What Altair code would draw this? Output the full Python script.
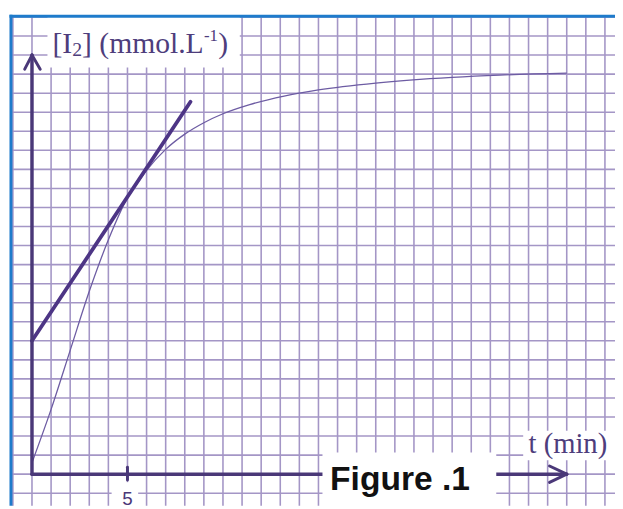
import altair as alt
import pandas as pd

# ---- data ----
time_min = [0, 1, 2, 3, 4, 5, 5.5, 6, 7, 8, 9, 10, 11.4, 13.2, 15, 18, 22, 24.5, 28]
iodine = [0.6, 3.4, 6.5, 9.6, 12.3, 14.5, 15.25, 15.95, 17.05, 17.85, 18.45, 18.92,
          19.4, 19.85, 20.17, 20.53, 20.83, 20.95, 21.05]
tangent_t = [0, 8.3]
tangent_c = [7.0, 19.55]
grid_t = list(range(-1, 31))
grid_c = list(range(-1, 25))
tick_label = "5"

W, H = 612, 496
xs = alt.Scale(domain=[-1.1008, 30.527], nice=False, zero=False)
ys = alt.Scale(domain=[-1.658, 24.041], nice=False, zero=False)

axis_color = "#4A3878"
tangent_color = "#4D3585"
curve_color = "#6D5CA3"
grid_color = "#A496C6"
text_color = "#4E3D7C"
border_color = "#1E7BCB"

one = pd.DataFrame({"k": [0]})


def XD(v):
    return alt.XDatum(v, scale=xs, axis=None)


def YD(v):
    return alt.YDatum(v, scale=ys, axis=None)


curve_df = pd.DataFrame({"t": time_min, "c": iodine})
tan_df = pd.DataFrame({"t": tangent_t, "c": tangent_c})
gx_df = pd.DataFrame({"t": grid_t})
gy_df = pd.DataFrame({"c": grid_c})

grid_v = alt.Chart(gx_df).mark_rule(color=grid_color, strokeWidth=1.6).encode(
    x=alt.X("t:Q", scale=xs, axis=None), y=alt.value(0), y2=alt.value(H))
grid_h = alt.Chart(gy_df).mark_rule(color=grid_color, strokeWidth=1.6).encode(
    y=alt.Y("c:Q", scale=ys, axis=None), x=alt.value(0), x2=alt.value(W))

curve = alt.Chart(curve_df).mark_line(color=curve_color, strokeWidth=1.3,
                                      interpolate="monotone").encode(
    x=alt.X("t:Q", scale=xs, axis=None),
    y=alt.Y("c:Q", scale=ys, axis=None),
)

tangent = alt.Chart(tan_df).mark_line(color=tangent_color, strokeWidth=3.8,
                                      strokeCap="round").encode(
    x=alt.X("t:Q", scale=xs, axis=None),
    y=alt.Y("c:Q", scale=ys, axis=None),
)


def box(x1, x2, y1, y2):
    return alt.Chart(one).mark_rect(color="white").encode(
        x=XD(x1), x2=alt.X2Datum(x2), y=YD(y1), y2=alt.Y2Datum(y2))


def seg(x1, y1, x2, y2, w=3.5, color=axis_color):
    return alt.Chart(one).mark_rule(color=color, strokeWidth=w, strokeCap="round").encode(
        x=XD(x1), x2=alt.X2Datum(x2), y=YD(y1), y2=alt.Y2Datum(y2))


def label(txt, x, y, size, dx=0, dy=0, font="Liberation Serif", color=text_color,
          weight="normal", align="left"):
    return alt.Chart(one).mark_text(text=txt, font=font, fontSize=size, color=color,
                                    fontWeight=weight, align=align, baseline="alphabetic",
                                    dx=dx, dy=dy).encode(x=XD(x), y=YD(y))


ylabel_box = box(0.81, 10.88, 21.35, 24.2)
tlabel_box = box(25.72, 31.0, 0.73, 2.28)
five_box = box(4.17, 5.56, -0.42, -2.0)

border_left = alt.Chart(one).mark_rule(color=border_color, strokeWidth=3).encode(
    x=alt.value(0), y=alt.value(-1.5), y2=alt.value(H))
border_top = alt.Chart(one).mark_rule(color=border_color, strokeWidth=3).encode(
    y=alt.value(0), x=alt.value(-1.5), x2=alt.value(W))

y_axis = seg(0, 0, 0, 22)
y_arm1 = seg(-0.38, 21.26, 0, 22, w=3)
y_arm2 = seg(0.43, 21.26, 0, 22, w=3)
x_axis = seg(0, 0, 28, 0)
x_arm1 = seg(27.1, 0.43, 28, 0, w=3)
x_arm2 = seg(27.1, -0.43, 28, 0, w=3)
tick5 = seg(5, 0.36, 5, -0.31, w=3)

fig_box = box(15.21, 24.31, 1.14, -2.0)

fig_text = label("Figure .1", 15.61, -0.81, 34, font="Liberation Sans", color="#111111",
                 weight="bold")
five_text = label(tick_label, 5, -1.62, 19, font="Liberation Sans", color=axis_color,
                  align="center")
t_text = label("t (min)", 26.0, 1.11, 29)

ya, yb = 1.07, 22.12
y_parts = [
    label("[I", ya, yb, 30, dx=0),
    label("2", ya, yb, 20, dx=20, dy=3),
    label("] (mmol.L", ya, yb, 30, dx=30),
    label("-1", ya, yb, 17, dx=153.5, dy=-12),
    label(")", ya, yb, 30, dx=168),
]

chart = alt.layer(
    grid_v, grid_h,
    ylabel_box, tlabel_box, five_box,
    border_left, border_top,
    curve,
    tangent,
    y_axis, y_arm1, y_arm2,
    x_axis, x_arm1, x_arm2, tick5,
    fig_box, fig_text, five_text, t_text,
    *y_parts,
).properties(
    width=W, height=H,
    padding={"left": 3, "top": 5, "right": 0, "bottom": 0},
    autosize=alt.AutoSizeParams(type="none"),
    background="white",
).configure_view(strokeWidth=0)

chart.save("out.html", embed_options={"renderer": "svg", "actions": False})
